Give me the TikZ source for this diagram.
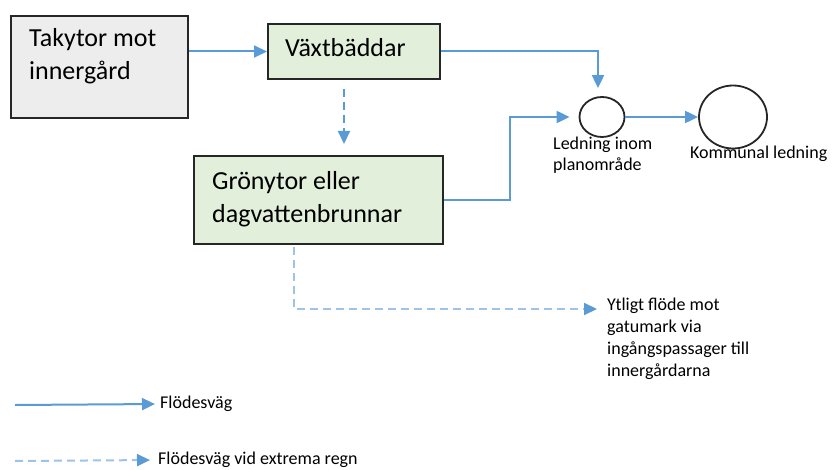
\documentclass[tikz,border=0pt]{standalone}
\usepackage{fontspec}
\setmainfont{Carlito}
\usetikzlibrary{arrows.meta,shapes.geometric}

\definecolor{flowblue}{HTML}{5B9BD5}
\definecolor{lightblue}{HTML}{9DC3E6}
\definecolor{roofgray}{HTML}{EDEDED}
\definecolor{bedgreen}{HTML}{E2EFDA}

\tikzset{
  box/.style={draw=black!85, line width=2pt, anchor=north west, inner sep=0pt},
  boxtext/.style={anchor=north west, align=left, inner sep=0pt, font=\fontsize{26}{33}\selectfont},
  smalltext/.style={anchor=north west, align=left, inner sep=0pt, font=\fontsize{18}{22}\selectfont},
  pipe/.style={draw=black!85, line width=1.8pt, shape=ellipse, inner sep=0pt},
  flow/.style={draw=flowblue, line width=2pt, -{Triangle[length=13pt,width=12pt]}},
  extreme/.style={flow, dash pattern=on 8pt off 5pt},
  extremelight/.style={extreme, draw=lightblue, -{Triangle[length=13pt,width=12pt,color=flowblue]}}
}

\begin{document}
\begin{tikzpicture}[x=1pt,y=-1pt]
  \useasboundingbox (0,0) rectangle (837,470);

  % boxes and pipes
  \node[box, fill=roofgray, minimum width=177pt, minimum height=102pt] (takytor) at (10,15) {};
  \node[box, fill=bedgreen, minimum width=172pt, minimum height=55pt] (vaxt) at (267,23) {};
  \node[box, fill=bedgreen, minimum width=249pt, minimum height=88pt] (gron) at (193,155) {};
  \node[pipe, minimum width=45pt, minimum height=40pt] (ledning) at (602,117) {};
  \node[pipe, minimum width=68pt, minimum height=63pt] (kommunal) at (733,117) {};

  % texts
  \node[boxtext] (takytortext) at (29,28) {Takytor mot\\innergård};
  \node[boxtext] (vaxttext) at (285,38) {Växtbäddar};
  \node[boxtext] (grontext) at (212,171) {Grönytor eller\\dagvattenbrunnar};
  \node[smalltext, font=\fontsize{18}{21}\selectfont] (ledningtext) at (553,137) {Ledning inom\\planområde};
  \node[smalltext] (kommunaltext) at (690,146) {Kommunal ledning};
  \node[smalltext] (ytligt) at (607,298) {Ytligt flöde mot\\gatumark via\\ingångspassager till\\innergårdarna};

  % legend
  \coordinate (legflowstart) at (15,405);
  \coordinate (legextremestart) at (15,461);
  \node[smalltext] (legflow) at (160,396) {Flödesväg};
  \node[smalltext] (legextreme) at (158,452) {Flödesväg vid extrema regn};

  % connectors
  \draw[flow] (takytor.east |- vaxt.west) -- (vaxt.west);
  \draw[flow, shorten >=8pt] (vaxt.east) -| ([xshift=-4pt]ledning.north);
  \draw[extreme, shorten <=9pt, shorten >=11pt] ([xshift=-10pt]vaxt.south) -- ([xshift=-10pt]vaxt.south |- gron.north);
  \draw[flow, shorten >=9pt] (gron.east) -- ++(66,0) |- (ledning.west);
  \draw[flow] (ledning.east) -- (kommunal.west);
  \draw[extremelight, shorten <=2pt, shorten >=10pt] ([xshift=-25pt]gron.south) |- ([yshift=-11pt]ytligt.north west);
  \draw[flow, shorten >=5pt] (legflowstart) -- (legflow.west);
  \draw[extremelight, shorten >=8pt] (legextremestart) -- (legextreme.west);
\end{tikzpicture}
\end{document}
